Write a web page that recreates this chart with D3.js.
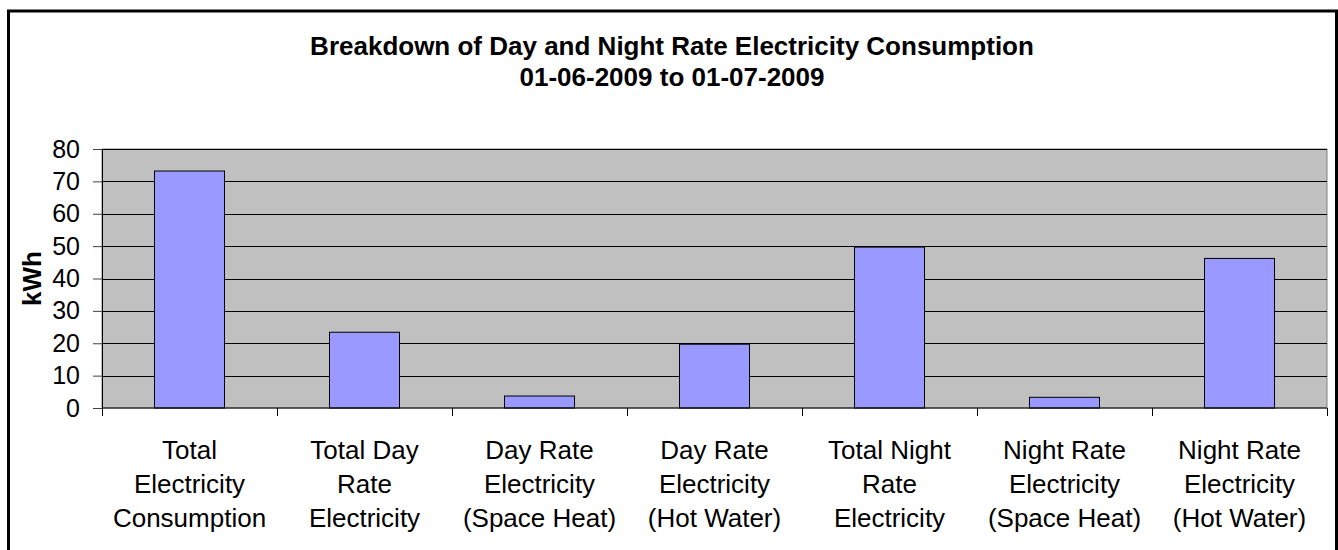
<!DOCTYPE html>
<html>
<head>
<meta charset="utf-8">
<script src="https://cdn.jsdelivr.net/npm/d3@7"></script>
<style>
  body { margin: 0; background: #fff; }
  svg text { font-family: Arial, "Liberation Sans", sans-serif; }
</style>
</head>
<body>
<svg id="chart" width="1338" height="550"></svg>
<script>
// chart data
const categories = [
  ['Total', 'Electricity', 'Consumption'],
  ['Total Day', 'Rate', 'Electricity'],
  ['Day Rate', 'Electricity', '(Space Heat)'],
  ['Day Rate', 'Electricity', '(Hot Water)'],
  ['Total Night', 'Rate', 'Electricity'],
  ['Night Rate', 'Electricity', '(Space Heat)'],
  ['Night Rate', 'Electricity', '(Hot Water)']
]
const values = [73.2, 23.4, 3.7, 19.7, 49.7, 3.3, 46.2]
const yTicks = [0, 10, 20, 30, 40, 50, 60, 70, 80]
const titleLines = ['Breakdown of Day and Night Rate Electricity Consumption', '01-06-2009 to 01-07-2009']
const yLabel = 'kWh'

const svg = d3.select('#chart')

// outer chart frame
svg.append('rect')
  .attr('x', 8.5).attr('y', 11)
  .attr('width', 1328).attr('height', 600)
  .attr('fill', '#fff')
  .attr('stroke', '#000')
  .attr('stroke-width', 3)

const plotLeft = 102
const plotTop = 149
const width = 1225
const height = 259

const x = d3.scaleBand().domain(d3.range(categories.length)).range([0, width])
const y = d3.scaleLinear().domain([0, 80]).range([height, 0])

const g = svg.append('g').attr('transform', 'translate(' + plotLeft + ',' + plotTop + ')')

// plot area
g.append('rect')
  .attr('width', width).attr('height', height)
  .attr('fill', '#c0c0c0')
  .attr('stroke', '#808080')
  .attr('stroke-width', 1)

// gridlines
g.selectAll('.grid').data(yTicks.slice(1)).join('line')
  .attr('class', 'grid')
  .attr('x1', 0).attr('x2', width)
  .attr('y1', d => Math.round(y(d)) + 0.5).attr('y2', d => Math.round(y(d)) + 0.5)
  .attr('stroke', '#000')

// bars, 150% gap width
const barW = x.bandwidth() / 2.5
g.selectAll('.bar').data(values).join('rect')
  .attr('class', 'bar')
  .attr('x', (d, i) => x(i) + (x.bandwidth() - barW) / 2)
  .attr('y', d => y(d))
  .attr('width', barW)
  .attr('height', d => height - y(d))
  .attr('fill', '#9999ff')
  .attr('stroke', '#000')
  .attr('stroke-width', 1)

// y axis
const yAxis = g.append('g')
  .call(d3.axisLeft(y).tickValues(yTicks).tickSize(9).tickPadding(13).tickSizeOuter(0))
yAxis.select('.domain').attr('stroke', '#000')
yAxis.selectAll('line').attr('stroke', '#404040')
yAxis.selectAll('text')
  .attr('font-size', 25)
  .attr('fill', '#000')
  .style('font-family', 'Arial, "Liberation Sans", sans-serif')

// x axis: ticks at category boundaries
const xAxis = g.append('g').attr('transform', 'translate(0,' + height + ')')
xAxis.append('line')
  .attr('x1', 0).attr('x2', width)
  .attr('stroke', '#000')
xAxis.selectAll('.xtick').data(d3.range(categories.length + 1)).join('line')
  .attr('class', 'xtick')
  .attr('x1', d => Math.round(d * x.step()) + 0.5)
  .attr('x2', d => Math.round(d * x.step()) + 0.5)
  .attr('y1', 0).attr('y2', 8)
  .attr('stroke', '#000')

// category labels
const labels = g.selectAll('.xlabel').data(categories).join('text')
  .attr('class', 'xlabel')
  .attr('text-anchor', 'middle')
  .attr('font-size', 26)
  .attr('fill', '#000')
labels.selectAll('tspan').data((d, i) => d.map(t => ({ t, i }))).join('tspan')
  .attr('x', d => x(d.i) + x.bandwidth() / 2)
  .attr('y', (d, j) => height + 51 + j * 34)
  .text(d => d.t)

// title
svg.selectAll('.title').data(titleLines).join('text')
  .attr('class', 'title')
  .attr('x', 672)
  .attr('y', (d, i) => 55 + i * 31)
  .attr('text-anchor', 'middle')
  .attr('font-size', 26)
  .attr('font-weight', 'bold')
  .text(d => d)

// y axis title
svg.append('text')
  .attr('transform', 'translate(41,' + (plotTop + height / 2) + ') rotate(-90)')
  .attr('text-anchor', 'middle')
  .attr('font-size', 26)
  .attr('font-weight', 'bold')
  .text(yLabel)
</script>
</body>
</html>
